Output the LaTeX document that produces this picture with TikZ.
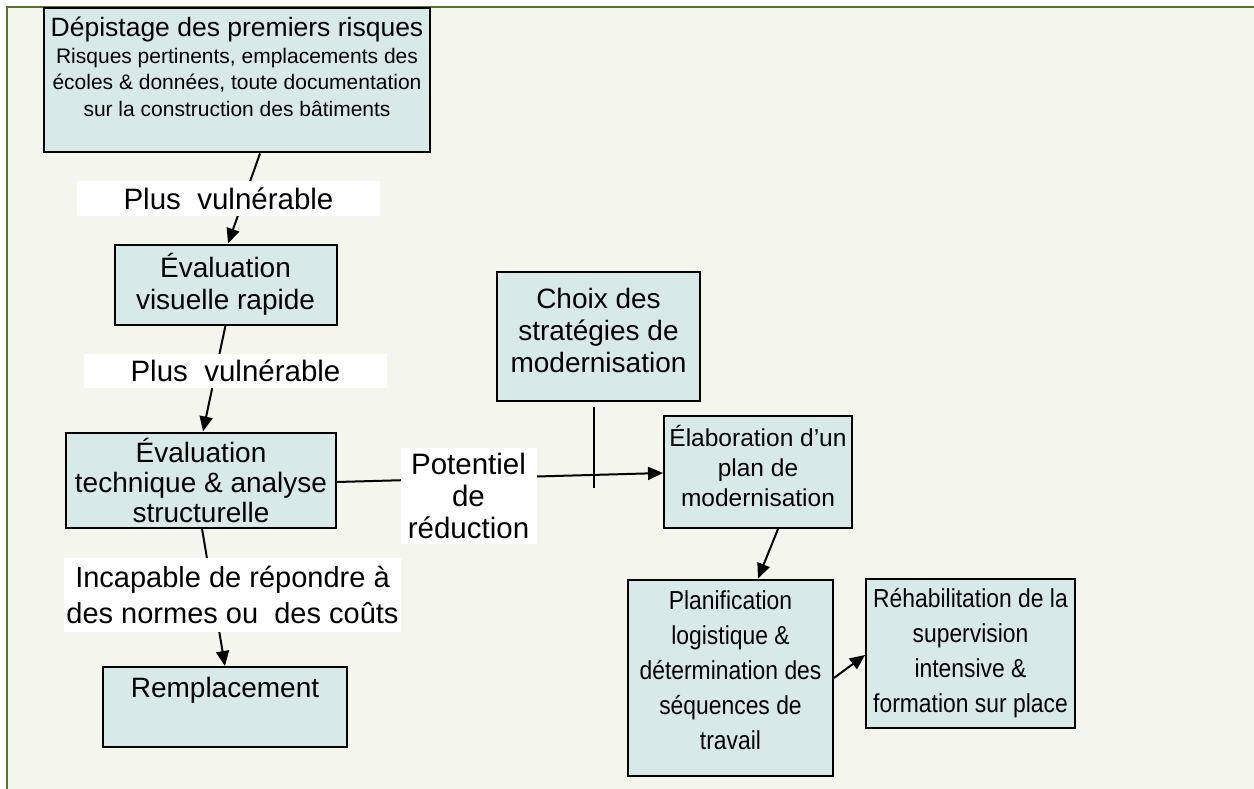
\documentclass[tikz,border=0pt]{standalone}
\usepackage{fontspec}
\setmainfont{Liberation Sans}
\newfontfamily\narrowsans[FakeStretch=0.88]{Liberation Sans}
\usepackage{xcolor}
\usepackage{tikz}
\usetikzlibrary{arrows.meta}
\definecolor{pagebg}{RGB}{244,246,237}
\definecolor{framegreen}{RGB}{92,112,50}
\definecolor{boxfill}{RGB}{215,234,232}
\newcommand{\titlesize}{\fontsize{26.5}{29}\selectfont}
\newcommand{\subsize}{\fontsize{21}{26.5}\selectfont}
\tikzset{
  stepbox/.style={rectangle, draw=black, line width=2pt, fill=boxfill, align=center, inner sep=0pt,
    font=\fontsize{28}{32}\selectfont},
  narrowbox/.style={stepbox, font=\narrowsans\fontsize{26}{35}\selectfont},
  arrow/.style={line width=2pt, -{Triangle[length=15pt, width=13pt]}},
  annotation/.style={rectangle, fill=white, inner sep=0pt, align=center, font=\fontsize{29.5}{33}\selectfont}
}

\begin{document}
\begin{tikzpicture}[x=1pt, y=-1pt]
  % Background
  \useasboundingbox (0,0) rectangle (1254,789);
  \fill[white] (0,0) rectangle (1254,789);
  \fill[pagebg] (7,7) rectangle (1254,789);
  \draw[framegreen, line width=2.5pt] (7,789) -- (7,7) -- (1254,7);

  % Nodes
  \node (screening) [stepbox, minimum width=386pt, minimum height=144pt, font=\subsize] at (237,80.5)
    {\titlesize Dépistage des premiers risques\\
     \subsize Risques pertinents, emplacements des\\
     \subsize écoles \& données, toute documentation\\
     \subsize sur la construction des bâtiments\rule[-28pt]{0pt}{28pt}};
  \node (visual) [stepbox, minimum width=222pt, minimum height=80pt] at (225.5,284.5)
    {Évaluation\\ visuelle rapide};
  \node (technical) [stepbox, minimum width=270pt, minimum height=95pt, font=\fontsize{28}{30}\selectfont] at (201,480)
    {Évaluation\\ technique \& analyse\\ structurelle};
  \node (replace) [stepbox, minimum width=244pt, minimum height=80pt] at (225,707)
    {Remplacement\rule[-40pt]{0pt}{40pt}};
  \node (strategy) [stepbox, minimum width=203pt, minimum height=129pt] at (598.5,336.5)
    {Choix des\\ stratégies de\\ modernisation\rule[-12pt]{0pt}{12pt}};
  \node (plan) [stepbox, minimum width=188pt, minimum height=112pt, font=\fontsize{24.5}{30}\selectfont] at (758,472)
    {Élaboration d'un\\ plan de\\ modernisation\rule[-13pt]{0pt}{13pt}};
  \node (logistics) [narrowbox, minimum width=205pt, minimum height=196pt] at (730.5,677.5)
    {Planification\\ logistique \&\\ détermination des\\ séquences de\\ travail\rule[-15pt]{0pt}{15pt}};
  \node (rehab) [narrowbox, minimum width=209pt, minimum height=149pt] at (970.5,653)
    {Réhabilitation de la\\ supervision\\ intensive \&\\ formation sur place};
  \coordinate (crossend) at (594,488);

  % Arrows
  \draw [arrow] ([xshift=23pt]screening.south) -- ([xshift=2.5pt]visual.north);
  \draw [arrow] ([xshift=0pt]visual.south) -- ([xshift=2pt]technical.north);
  \draw [arrow] ([xshift=1pt]technical.south) -- ([xshift=0pt]replace.north);
  \draw [arrow] ([yshift=-2pt]technical.east) -- ([yshift=-1pt]plan.west);
  \draw [line width=1.2pt] ([xshift=-4.5pt, yshift=-5pt]strategy.south) -- (crossend);
  \draw [arrow] ([xshift=20pt]plan.south) -- ([xshift=27.5pt]logistics.north);
  \draw [arrow] ([yshift=-0.5pt]logistics.east) -- ([yshift=-2pt]rehab.west);

  % Annotations
  \node (vuln1) [annotation, minimum width=303pt, minimum height=35pt] at (228.5,198.5) {Plus~ vulnérable};
  \node (vuln2) [annotation, minimum width=303pt, minimum height=34pt] at (235.5,371) {Plus~ vulnérable};
  \node (unable) [annotation, minimum width=337pt, minimum height=74pt, font=\fontsize{29}{36}\selectfont] at (232.5,595)
    {Incapable de répondre à\\ des normes ou~ des coûts};
  \node (reduction) [annotation, minimum width=136pt, minimum height=96pt, font=\fontsize{29.5}{32}\selectfont] at (468.5,496)
    {Potentiel\\ de\\ réduction};
\end{tikzpicture}
\end{document}
